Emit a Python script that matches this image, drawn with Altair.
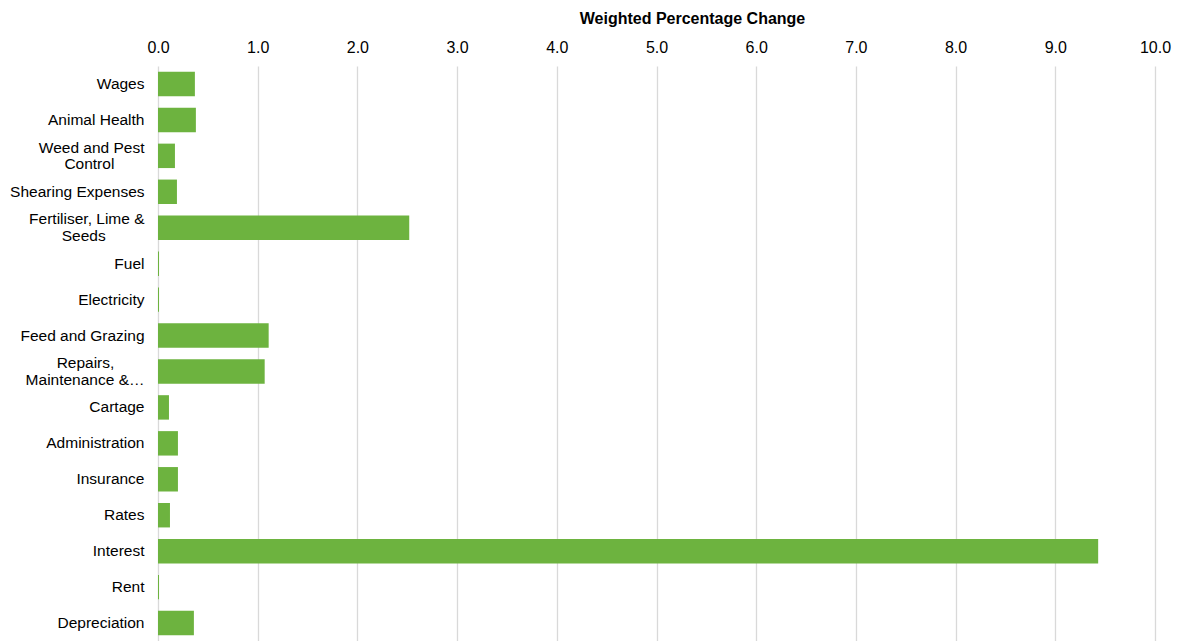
import altair as alt
import pandas as pd

# Cost categories, top to bottom ("|" marks a line break in the axis label).
# Non-breaking spaces, closed by a zero-width space so they are not trimmed,
# centre the shorter line under the longer one.
PAD = "\u00a0"
END = "\u200b"
categories = [
    "Wages",
    "Animal Health",
    "Weed and Pest|Control" + PAD * 7 + END,
    "Shearing Expenses",
    "Fertiliser, Lime &|Seeds" + PAD * 9 + END,
    "Fuel",
    "Electricity",
    "Feed and Grazing",
    "Repairs," + PAD * 7 + END + "|Maintenance &\u2026",
    "Cartage",
    "Administration",
    "Insurance",
    "Rates",
    "Interest",
    "Rent",
    "Depreciation",
]

# Weighted percentage change for each category
values = [0.37, 0.38, 0.17, 0.19, 2.52, 0.01, 0.01, 1.11,
          1.07, 0.11, 0.20, 0.20, 0.12, 9.43, 0.01, 0.36]

x_ticks = [0, 1, 2, 3, 4, 5, 6, 7, 8, 9, 10]

df = pd.DataFrame({"category": categories, "change": values})

FONT = "Liberation Sans"
LINE_HEIGHT = 16.6

chart = (
    alt.Chart(df)
    .mark_bar(color="#6db33f")
    .encode(
        x=alt.X(
            "change:Q",
            scale=alt.Scale(domain=[0, 10], nice=False),
            axis=alt.Axis(
                orient="top",
                values=x_ticks,
                format=".1f",
                title="Weighted Percentage Change",
                titleFont=FONT,
                titleFontSize=16,
                titleFontWeight="bold",
                titleColor="#000000",
                titleAnchor="start",
                titleAlign="center",
                titleBaseline="middle",
                titleX=534,
                titleY=-48,
                labelFont=FONT,
                labelFontSize=16,
                labelColor="#000000",
                labelPadding=11,
                labelFlush=False,
                ticks=False,
                domain=False,
                grid=True,
                gridColor="#d9d9d9",
                gridWidth=1.3,
            ),
        ),
        y=alt.Y(
            "category:N",
            sort=None,
            scale=alt.Scale(paddingInner=0.32, paddingOuter=0.16),
            axis=alt.Axis(
                title=None,
                labelExpr="split(datum.label, '|')",
                labelFont=FONT,
                labelFontSize=15.5,
                labelColor="#000000",
                labelBaseline="middle",
                labelLineHeight=LINE_HEIGHT,
                # two-line labels are lifted by half a line so they sit centred on the bar
                labelOffset=alt.condition(
                    "indexof(datum.value, '|') >= 0",
                    alt.value(-LINE_HEIGHT / 2),
                    alt.value(0),
                ),
                labelPadding=14,
                labelLimit=200,
                ticks=False,
                domain=False,
                grid=False,
            ),
        ),
    )
    .properties(
        width=997,
        height=575,
        autosize=alt.AutoSizeParams(type="none"),
        padding={"left": 158, "top": 66, "right": 25, "bottom": 0},
    )
    .configure_view(stroke=None)
)

chart.save("out.html", embed_options={"renderer": "svg", "actions": False})
